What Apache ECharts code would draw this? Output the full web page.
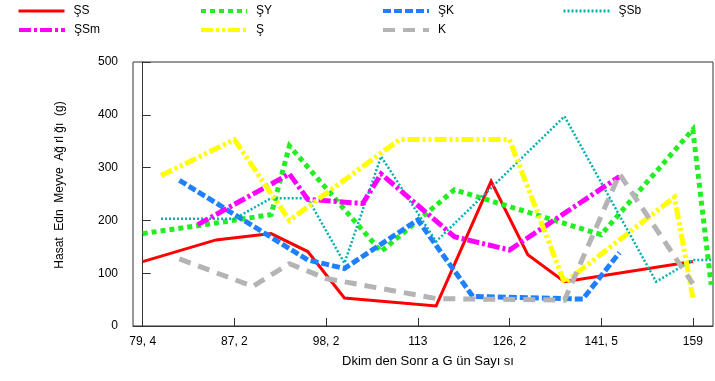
<!DOCTYPE html>
<html>
<head>
<meta charset="utf-8">
<script src="https://cdn.jsdelivr.net/npm/echarts@6/dist/echarts.min.js"></script>
<style>
  html, body { margin: 0; padding: 0; background: #fff; }
  #chart { width: 715px; height: 381px; }
</style>
</head>
<body>
<div id="chart"></div>
<script>
// Sampling slots along the x axis (0.2 of a labelled step each); labels sit every 5 slots.
const tickSlots = [0, 5, 10, 15, 20, 25, 30];
const tickLabels = ['79, 4', '87, 2', '98, 2', '113', '126, 2', '141, 5', '159'];

const seriesNames = ['ŞS', 'ŞY', 'ŞK', 'ŞSb', 'ŞSm', 'Ş', 'K'];

// Harvested fruit weight (g) per treatment
const ssSlots  = [0, 4, 7, 9, 11, 16, 19, 21, 23, 30];
const ssVals   = [122, 163, 175, 141, 53, 38, 274, 135, 84, 122];

const syzSlots = [0, 4, 7, 8, 13, 17, 25, 30, 31];
const syzVals  = [175, 195, 211, 341, 141, 258, 173, 372, 78];

const skSlots  = [2, 9, 11, 15, 18, 24, 26];
const skVals   = [276, 125, 109, 201, 56, 51, 139];

const ssbSlots = [1, 5, 7, 9, 11, 13, 16, 23, 28, 30, 31];
const ssbVals  = [203, 203, 242, 242, 119, 321, 160, 397, 84, 125, 125];

const ssmSlots = [3, 8, 9, 12, 13, 17, 20, 26];
const ssmVals  = [192, 288, 240, 232, 288, 169, 144, 283];

const sSlots   = [1, 5, 8, 14, 20, 23, 29, 30];
const sVals    = [285, 353, 200, 353, 353, 82, 244, 54];

const kSlots   = [2, 6, 8, 10, 16, 23, 26, 30];
const kVals    = [127, 75, 118, 90, 52, 49, 288, 80];

const pairs = (xs, ys) => xs.map((x, i) => [x, ys[i]]);

const styles = [
  { color: '#ff0000', width: 3,   legendWidth: 3, type: 'solid' },
  { color: '#22ee22', width: 5,   legendWidth: 4, type: [5, 4] },
  { color: '#1e7fff', width: 5,   legendWidth: 4, type: [8, 3] },
  { color: '#00b0b0', width: 2.5, legendWidth: 3, type: [2, 2] },
  { color: '#ff00ff', width: 5,   legendWidth: 4, type: [12, 3, 3, 3] },
  { color: '#ffff00', width: 5,   legendWidth: 4, type: [12, 3, 3, 3, 3, 3] },
  { color: '#b4b4b4', width: 5,   legendWidth: 4, type: [12, 8] }
];

const seriesData = [
  pairs(ssSlots, ssVals),
  pairs(syzSlots, syzVals),
  pairs(skSlots, skVals),
  pairs(ssbSlots, ssbVals),
  pairs(ssmSlots, ssmVals),
  pairs(sSlots, sVals),
  pairs(kSlots, kVals)
];

// Legend laid out as a 4-column, 2-row table; line samples only, no markers
const legendCols = [12, 194, 376, 557];
const legendRows = [0, 19];
const legends = seriesNames.map((name, i) => ({
  data: [name],
  left: legendCols[i % 4],
  top: legendRows[Math.floor(i / 4)],
  itemWidth: 46,
  itemHeight: 14,
  selectedMode: false,
  itemStyle: { opacity: 0 },
  lineStyle: { width: styles[i].legendWidth, type: styles[i].type, cap: 'butt' },
  textStyle: { fontFamily: 'Liberation Sans', fontSize: 12, color: '#000', padding: [0, 0, 0, 4] }
}));

const chart = echarts.init(document.getElementById('chart'), null, { renderer: 'canvas' });
chart.setOption({
  animation: false,
  backgroundColor: '#fff',
  legend: legends,
  grid: {
    left: 133, right: 2, top: 62, bottom: 55,
    show: true, borderColor: '#333', borderWidth: 1
  },
  xAxis: {
    type: 'value',
    min: -0.53,
    max: 31.1,
    splitLine: { show: false },
    axisLine: { lineStyle: { color: '#333', width: 1 } },
    axisTick: { customValues: tickSlots, inside: true, length: 8, lineStyle: { color: '#333' } },
    axisLabel: {
      customValues: tickSlots,
      formatter: v => tickLabels[tickSlots.indexOf(v)],
      margin: 10,
      fontFamily: 'Liberation Sans', fontSize: 12, color: '#000'
    },
    name: 'Dkim den Sonr a G ün Sayı sı',
    nameLocation: 'middle',
    nameGap: 29,
    nameTextStyle: { fontFamily: 'Liberation Sans', fontSize: 13, color: '#000', padding: [0, 0, 0, 10] }
  },
  yAxis: {
    type: 'value',
    min: 0, max: 500, interval: 100,
    splitLine: { show: false },
    axisLine: { show: true, lineStyle: { color: '#333', width: 1 } },
    axisTick: { inside: true, length: 8, lineStyle: { color: '#333' } },
    axisLabel: { margin: 15, fontFamily: 'Liberation Sans', fontSize: 12, color: '#000' },
    name: 'Hasat  Edn  Meyve  Ağ rl ğı  (g)',
    nameLocation: 'middle',
    nameRotate: 90,
    nameGap: 67,
    nameTextStyle: { fontFamily: 'Liberation Sans', fontSize: 12, color: '#000', padding: [0, 0, 0, 18] }
  },
  series: seriesNames.map((name, i) => ({
    name,
    type: 'line',
    data: seriesData[i],
    symbol: 'none',
    clip: false,
    color: styles[i].color,
    lineStyle: { color: styles[i].color, width: styles[i].width, type: styles[i].type, cap: 'butt', join: 'miter' }
  }))
});
</script>
</body>
</html>
